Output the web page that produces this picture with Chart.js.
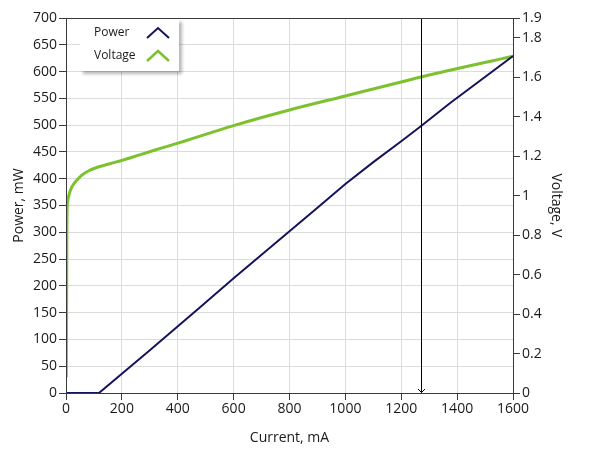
<!DOCTYPE html>
<html>
<head>
<meta charset="utf-8">
<script src="https://cdn.jsdelivr.net/npm/chart.js@4.4.0/dist/chart.umd.min.js"></script>
<style>
  html, body { margin: 0; padding: 0; background: #fff; }
  #wrap { width: 589px; height: 456px; }
</style>
</head>
<body>
<div id="wrap"><canvas id="myChart" width="589" height="456"></canvas></div>
<script>
// current (mA) and readings taken off the plot
var powerCurrent = [0, 118, 300, 480, 600, 800, 900, 1000, 1100, 1200, 1270, 1374, 1600];
var powerValues  = [0, 0, 80, 160, 214, 302, 346, 390, 431, 470, 498, 541, 629];

var voltageCurrent = [1, 2, 3, 4, 6, 10, 21, 40, 57, 80, 115, 160, 204, 260, 319, 380, 437, 600, 800, 1000, 1200, 1270, 1600];
var voltageValues  = [0.08, 0.4, 0.8, 0.93, 0.97, 1.0, 1.044, 1.08, 1.104, 1.125, 1.145, 1.163, 1.18, 1.205, 1.231, 1.257, 1.282, 1.355, 1.434, 1.505, 1.576, 1.601, 1.707];

var cursorCurrent = [1270];

var xTicks = [0, 200, 400, 600, 800, 1000, 1200, 1400, 1600];
var powerTicks = [0, 50, 100, 150, 200, 250, 300, 350, 400, 450, 500, 550, 600, 650, 700];
var voltageTicks = [0, 0.2, 0.4, 0.6, 0.8, 1, 1.2, 1.4, 1.6, 1.8, 1.9];

var seriesNames = ['Power', 'Voltage'];
var seriesColors = ['#14145c', '#7cc12e'];

function toPoints(xs, ys) {
  return xs.map(function(x, i) { return {x: x, y: ys[i]}; });
}

var textColor = '#1a1a1a';
var axisColor = '#3a3a3a';
var gridColor = '#dcdcdc';
var font = { family: "'Open Sans', 'Noto Sans', sans-serif", size: 14 };

function fixTicks(list) {
  return function(scale) {
    scale.ticks = list.map(function(v) { return {value: v}; });
  };
}
function plainLabel(value) { return String(value); }

// border on all four sides + cursor line
var framePlugin = {
  id: 'frame',
  afterDatasetsDraw: function(chart) {
    var ctx = chart.ctx, a = chart.chartArea;
    var xs = chart.scales.x;
    ctx.save();
    ctx.strokeStyle = '#000';
    ctx.lineWidth = 1;
    cursorCurrent.forEach(function(c) {
      var px = Math.round(xs.getPixelForValue(c)) + 0.5;
      ctx.beginPath();
      ctx.moveTo(px, a.top);
      ctx.lineTo(px, a.bottom);
      ctx.stroke();
      ctx.beginPath();
      ctx.moveTo(px - 3.5, a.bottom - 4);
      ctx.lineTo(px, a.bottom - 0.5);
      ctx.lineTo(px + 3.5, a.bottom - 4);
      ctx.stroke();
    });
    ctx.strokeStyle = axisColor;
    ctx.strokeRect(Math.round(a.left) + 0.5, Math.round(a.top) + 0.5,
                   Math.round(a.right - a.left), Math.round(a.bottom - a.top));
    ctx.restore();
  }
};

// legend box with chevron symbols
var legendPlugin = {
  id: 'chevronLegend',
  afterDraw: function(chart) {
    var ctx = chart.ctx, a = chart.chartArea;
    var bx = a.left + 14, by = a.top + 1, bw = 99, bh = 52;
    ctx.save();
    ctx.shadowColor = 'rgba(0,0,0,0.28)';
    ctx.shadowBlur = 3;
    ctx.shadowOffsetX = 3;
    ctx.shadowOffsetY = 3;
    ctx.fillStyle = '#fff';
    ctx.fillRect(bx, by, bw, bh);
    ctx.restore();

    ctx.save();
    ctx.font = "12px 'Open Sans', 'Noto Sans', sans-serif";
    ctx.textBaseline = 'middle';
    ctx.lineJoin = 'miter';
    chart.data.datasets.forEach(function(ds, i) {
      if (i >= seriesNames.length) return;
      var cy = by + 14 + i * 23;
      ctx.fillStyle = textColor;
      ctx.fillText(ds.label, bx + 14, cy);
      ctx.strokeStyle = ds.borderColor;
      ctx.lineWidth = i === 0 ? 2 : 2.5;
      ctx.beginPath();
      ctx.moveTo(bx + 67, cy + 5);
      ctx.lineTo(bx + 78, cy - 5);
      ctx.lineTo(bx + 89, cy + 5);
      ctx.stroke();
    });
    ctx.restore();
  }
};

var ctx = document.getElementById('myChart').getContext('2d');

var myChart = new Chart(ctx, {
  type: 'line',
  data: {
    datasets: [{
      label: seriesNames[0],
      data: toPoints(powerCurrent, powerValues),
      borderColor: seriesColors[0],
      borderWidth: 2,
      pointRadius: 0,
      tension: 0,
      yAxisID: 'y'
    }, {
      label: seriesNames[1],
      data: toPoints(voltageCurrent, voltageValues),
      borderColor: seriesColors[1],
      borderWidth: 3,
      pointRadius: 0,
      cubicInterpolationMode: 'monotone',
      yAxisID: 'y2'
    }]
  },
  options: {
    responsive: false,
    animation: false,
    layout: { padding: { top: 18, left: 0, right: 0, bottom: 0 } },
    plugins: {
      legend: { display: false },
      tooltip: { enabled: false }
    },
    scales: {
      x: {
        type: 'linear',
        min: 0,
        max: 1600,
        afterBuildTicks: fixTicks(xTicks),
        afterFit: function(s) { s.height = 63; },
        grid: { color: gridColor, tickColor: axisColor, tickLength: 7 },
        border: { color: axisColor },
        ticks: { color: textColor, font: font, padding: 1, maxRotation: 0, callback: plainLabel },
        title: { display: true, text: 'Current, mA', color: textColor, font: font, padding: { top: 0, bottom: 10 } }
      },
      y: {
        position: 'left',
        min: 0,
        max: 700,
        afterBuildTicks: fixTicks(powerTicks),
        afterFit: function(s) { s.width = 66; },
        grid: { color: gridColor, tickColor: axisColor, tickLength: 7 },
        border: { color: axisColor },
        ticks: { color: textColor, font: font, padding: 2, callback: plainLabel },
        title: { display: true, text: 'Power, mW', color: textColor, font: font, padding: { top: 11, bottom: 0 } }
      },
      y2: {
        position: 'right',
        min: 0,
        max: 1.9,
        afterBuildTicks: fixTicks(voltageTicks),
        afterFit: function(s) { s.width = 76; },
        grid: { drawOnChartArea: false, color: axisColor, tickColor: axisColor, tickLength: 7 },
        border: { color: axisColor },
        ticks: { color: textColor, font: font, padding: 2, callback: plainLabel },
        title: { display: true, text: 'Voltage, V', color: textColor, font: font, padding: { top: 25, bottom: 0 } }
      }
    }
  },
  plugins: [framePlugin, legendPlugin]
});
</script>
</body>
</html>
